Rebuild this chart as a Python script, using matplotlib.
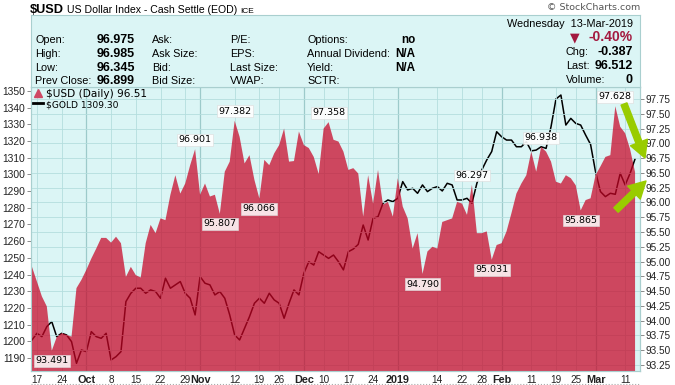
import matplotlib
matplotlib.use('Agg')
import matplotlib.pyplot as plt
import numpy as np
import pandas as pd
from matplotlib.lines import Line2D
from matplotlib.patches import FancyArrowPatch

plt.rcParams['font.family'] = ['Liberation Sans', 'DejaVu Sans']

# trading days shown on the chart
holidays = ['2018-11-22', '2018-12-05', '2018-12-25', '2019-01-01', '2019-01-21', '2019-02-18']
dates = pd.bdate_range('2018-09-14', '2019-03-13')
dates = dates[~dates.isin(pd.to_datetime(holidays))]

usd = [94.91, 94.66, 94.41, 94.24, 93.491, 93.72, 93.79, 93.76, 93.73, 94.55,
       94.69, 94.86, 95.05, 95.22, 95.40, 95.40, 95.32, 95.42, 95.31, 94.74,
       94.91, 94.77, 94.73, 95.31, 95.62, 95.48, 95.73, 95.70, 96.13, 96.46,
       96.15, 96.32, 96.63, 96.901, 96.13, 96.32, 96.10, 96.13, 95.807, 96.52,
       96.69, 97.382, 97.11, 96.66, 96.80, 96.38, 96.066, 96.72, 96.63, 96.83,
       96.97, 97.25, 96.69, 96.70, 97.20, 96.97, 96.92, 96.77, 96.48, 97.25,
       97.358, 97.06, 97.03, 96.86, 96.55, 96.58, 96.49, 95.76, 96.46, 95.98,
       96.55, 95.96, 96.01, 95.76, 96.41, 95.93, 95.73, 95.22, 95.48, 94.790,
       95.17, 95.25, 95.22, 95.67, 95.70, 95.73, 96.01, 95.98, 95.79, 96.297,
       95.48, 95.48, 95.51, 95.031, 95.28, 95.31, 95.51, 95.82, 96.15, 96.32,
       96.46, 96.86, 96.52, 96.938, 96.86, 96.69, 96.35, 96.32, 96.46, 96.41,
       96.29, 95.865, 96.04, 96.07, 96.46, 96.61, 96.77, 96.80, 97.628, 97.28,
       97.17, 96.899, 96.512]

gold = [1200.8, 1204.8, 1202.8, 1208.8, 1211.8, 1202.8, 1204.8, 1203.8, 1199.8, 1186.8,
        1194.8, 1193.8, 1205.8, 1202.8, 1201.8, 1204.8, 1188.8, 1190.8, 1193.8, 1223.8,
        1228.8, 1231.8, 1231.8, 1228.8, 1230.8, 1229.8, 1225.8, 1237.8, 1231.8, 1233.8,
        1235.8, 1228.8, 1225.8, 1215.8, 1238.8, 1234.8, 1233.8, 1227.8, 1229.8, 1225.8,
        1215.8, 1203.8, 1200.8, 1207.8, 1214.8, 1222.8, 1225.8, 1222.8, 1228.8, 1224.8,
        1222.8, 1213.8, 1222.8, 1230.8, 1227.8, 1240.8, 1247.7, 1245.7, 1253.7, 1251.7,
        1249.7, 1251.7, 1247.7, 1242.8, 1253.7, 1255.3, 1258.1, 1269.7, 1260.7, 1273.7,
        1274.7, 1282.7, 1284.7, 1283.7, 1285.7, 1295.7, 1290.7, 1291.7, 1288.7, 1293.7,
        1289.7, 1291.7, 1292.7, 1290.1, 1294.7, 1293.7, 1284.7, 1284.7, 1285.7, 1282.7,
        1294.7, 1302.7, 1308.7, 1313.7, 1325.6, 1322.6, 1320.6, 1320.6, 1316.6, 1316.6,
        1319.6, 1314.1, 1314.6, 1316.6, 1315.6, 1328.6, 1345.2, 1347.6, 1329.6, 1333.6,
        1330.6, 1329.6, 1323.6, 1318.0, 1301.7, 1289.7, 1286.7, 1288.7, 1288.1, 1300.7,
        1293.7, 1300.7, 1309.3]

tick_dates = ['2018-09-17', '2018-09-24', '2018-10-01', '2018-10-08', '2018-10-15',
              '2018-10-22', '2018-10-29', '2018-11-01', '2018-11-12', '2018-11-19',
              '2018-11-26', '2018-12-03', '2018-12-10', '2018-12-17', '2018-12-24',
              '2019-01-02', '2019-01-14', '2019-01-22', '2019-01-28', '2019-02-01',
              '2019-02-11', '2019-02-19', '2019-02-25', '2019-03-01', '2019-03-11']
tick_labels = ['17', '24', 'Oct', '8', '15', '22', '29', 'Nov', '12', '19', '26', 'Dec',
               '10', '17', '24', '2019', '14', '22', '28', 'Feb', '11', '19', '25', 'Mar', '11']
month_labels = ['Oct', 'Nov', 'Dec', '2019', 'Feb', 'Mar']

peak_idx = [33, 41, 60, 89, 103, 118]
trough_idx = [4, 38, 46, 79, 93, 111]

bg = '#dbf5f5'
gridc = '#b4dede'
fillc = '#c80425'

W, H = 675, 385
x = np.arange(len(dates))
tick_pos = [dates.get_loc(pd.Timestamp(d)) for d in tick_dates]

fig = plt.figure(figsize=(W / 100, H / 100), dpi=100)
ax = fig.add_axes([31 / W, 1 - 371 / H, 609 / W, 284 / H])
ax.set_facecolor(bg)
ax2 = ax.twinx()

# gold on the left scale, underneath the dollar area
ax.plot(x, gold, color='black', lw=1.1, zorder=2)
ax.set_ylim(1182.2, 1352.4)
ax.set_yticks(np.arange(1190, 1351, 10))
ax.tick_params(axis='y', direction='out', length=3, width=0.6, color='#777777',
               labelsize=7.4, pad=1, labelcolor='#222222')

ax2.fill_between(x, usd, 90, color=fillc, alpha=0.72, lw=0, zorder=1)
ax2.set_ylim(93.148, 97.953)
ax2.set_yticks(np.arange(93.25, 97.76, 0.25))
ax2.set_yticklabels(['%.2f' % v for v in np.arange(93.25, 97.76, 0.25)])
ax2.tick_params(axis='y', direction='out', length=3, width=0.6, color='#777777',
                labelsize=7.2, pad=1, labelcolor='#222222')
ax2.set_axisbelow(True)
ax2.grid(axis='y', color=gridc, lw=0.6)
for p, lab in zip(tick_pos, tick_labels):
    if lab in month_labels:
        ax2.axvline(p, color='#9ccaca', lw=0.9, zorder=0.5)
    else:
        ax2.axvline(p, color=gridc, lw=0.6, zorder=0.5)

ax.set_xlim(-0.2, len(x))
ax.set_xticks(tick_pos)
ax.set_xticklabels(tick_labels)
ax.tick_params(axis='x', length=0, labelsize=7.2, pad=3, labelcolor='#222222')
for t in ax.get_xticklabels():
    if t.get_text() in month_labels:
        t.set_fontweight('bold')
        t.set_fontsize(7.8)

for a in (ax, ax2):
    for s in a.spines.values():
        s.set_color('#a9cfcf')
        s.set_linewidth(0.8)

# value labels on highs and lows
for i in peak_idx:
    ax2.annotate('%.3f' % usd[i], (x[i], usd[i]), xytext=(0, 3.5), textcoords='offset points',
                 ha='center', va='bottom', fontsize=6.8, family='DejaVu Sans', zorder=6,
                 bbox=dict(boxstyle='square,pad=0.15', fc='white', ec='#dddddd', lw=0.5, alpha=0.9))
for i in trough_idx:
    ax2.annotate('%.3f' % usd[i], (x[i], usd[i]), xytext=(0, -4), textcoords='offset points',
                 ha='center', va='top', fontsize=6.8, family='DejaVu Sans', zorder=6,
                 bbox=dict(boxstyle='square,pad=0.15', fc='white', ec='#dddddd', lw=0.5, alpha=0.85))

# legend
handles = [Line2D([], [], marker='^', ls='none', color='#cf4864', markersize=6),
           Line2D([], [], color='black', lw=2)]
leg = ax2.legend(handles, ['$USD (Daily) %.2f' % usd[-1], '$GOLD %.2f' % gold[-1]],
                 loc='upper left', frameon=False, handlelength=0.9, handletextpad=0.3,
                 borderaxespad=0.1, borderpad=0.1, labelspacing=0.05,
                 prop={'family': 'DejaVu Sans', 'size': 7.6})
leg.get_texts()[1].set_fontsize(6.6)

# header box
hdr = fig.add_axes([31 / W, 1 - 87 / H, 609 / W, 72 / H])
hdr.set_xlim(31, 640)
hdr.set_ylim(87, 15)
hdr.set_facecolor(bg)
hdr.set_xticks([])
hdr.set_yticks([])
for s in hdr.spines.values():
    s.set_color('#a9cfcf')
    s.set_linewidth(0.8)

rows = [43, 57, 71, 84]
col1 = ['Open:', 'High:', 'Low:', 'Prev Close:']
col1_vals = ['96.975', '96.985', '96.345', '96.899']
col2 = ['Ask:', 'Ask Size:', 'Bid:', 'Bid Size:']
col3 = ['P/E:', 'EPS:', 'Last Size:', 'VWAP:']
col4 = ['Options:', 'Annual Dividend:', 'Yield:', 'SCTR:']
col4_vals = ['no', 'N/A', 'N/A', '']
lab_fs = 7.8
for r, a, av, b, c, d, dv in zip(rows, col1, col1_vals, col2, col3, col4, col4_vals):
    hdr.text(35, r, a, fontsize=lab_fs, va='baseline')
    hdr.text(135, r, av, fontsize=9, fontweight='bold', ha='right', va='baseline')
    hdr.text(152, r, b, fontsize=lab_fs, va='baseline')
    hdr.text(230, r, c, fontsize=lab_fs, va='baseline')
    hdr.text(307, r, d, fontsize=lab_fs, va='baseline')
    hdr.text(415, r, dv, fontsize=8.4, fontweight='bold', ha='right', va='baseline')

hdr.text(633, 27, 'Wednesday  13-Mar-2019', fontsize=lab_fs, ha='right', va='baseline')
hdr.text(633, 41, '-0.40%', fontsize=10, fontweight='bold', color='#a3193f',
         ha='right', va='baseline')
hdr.text(570, 41, '\u25bc', fontsize=9, color='#a3193f', ha='left', va='baseline',
         family=['DejaVu Sans'])
for r, lab, val in zip([55, 69, 83], ['Chg:', 'Last:', 'Volume:'], ['-0.387', '96.512', '0']):
    hdr.text(566, r, lab, fontsize=lab_fs, va='baseline')
    hdr.text(633, r, val, fontsize=9, fontweight='bold', ha='right', va='baseline')

# title
fig.text(30 / W, 1 - 13 / H, '$USD', fontsize=9.2, fontweight='bold', va='baseline')
fig.text(67 / W, 1 - 13 / H, 'US Dollar Index - Cash Settle (EOD)', fontsize=7.6, va='baseline')
fig.text(240 / W, 1 - 13 / H, 'ICE', fontsize=6, va='baseline')
fig.text(640 / W, 1 - 10 / H, '\u00a9 StockCharts.com', fontsize=6.8, color='#555555',
         ha='right', va='baseline', family='DejaVu Sans')

fig.add_artist(Line2D([31 / W, 640 / W], [1 - 384 / H] * 2, ls=':', color='#aaaaaa', lw=0.8))

# green pointers at the right scale
arrow = dict(arrowstyle='simple,head_length=1.2,head_width=1.3,tail_width=0.45',
             color='#99cc00', mutation_scale=10, shrinkA=0, shrinkB=0)
fig.add_artist(FancyArrowPatch((624 / W, 1 - 104 / H), (645 / W, 1 - 158 / H),
                               transform=fig.transFigure, **arrow))
fig.add_artist(FancyArrowPatch((616 / W, 1 - 210 / H), (646 / W, 1 - 181 / H),
                               transform=fig.transFigure, **arrow))

fig.savefig('out.png', dpi=100)
